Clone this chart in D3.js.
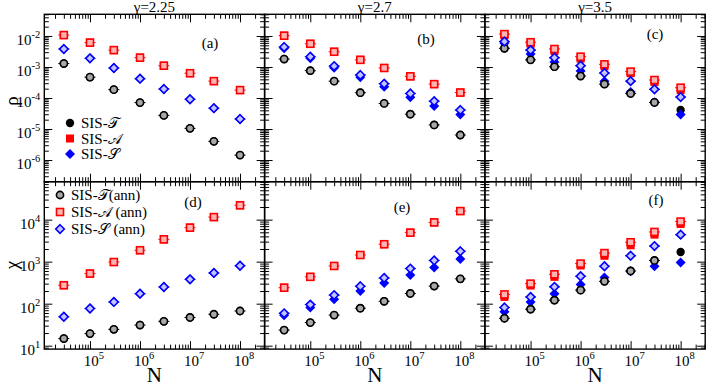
<!DOCTYPE html>
<html>
<head>
<meta charset="utf-8">
<script src="https://cdn.jsdelivr.net/npm/d3@7"></script>
<style>
  body { margin: 0; background: #fff; }
  text { font-family: "Liberation Serif", "Times New Roman", serif; fill: #000; }
</style>
</head>
<body>
<div id="root"></div>
<script>
// system sizes N (same for every panel)
const sizes = [3e4, 1e5, 3e5, 1e6, 3e6, 1e7, 3e7, 1e8];
const gammaTitles = ["γ=2.25", "γ=2.7", "γ=3.5"];
const panelTags = ["(a)", "(b)", "(c)", "(d)", "(e)", "(f)"];
const legendTop = ["SIS-𝒯", "SIS-𝒜", "SIS-𝒮"];
const legendBottom = ["SIS-𝒯(ann)", "SIS-𝒜 (ann)", "SIS-𝒮 (ann)"];

// rho, gamma = 2.25
const rhoT_a = [1.29e-3, 4.7e-4, 1.86e-4, 7.1e-5, 2.75e-5, 1.05e-5, 4.0e-6, 1.44e-6];
const rhoTann_a = [1.29e-3, 4.7e-4, 1.86e-4, 7.1e-5, 2.75e-5, 1.05e-5, 4.0e-6, 1.44e-6];
const rhoA_a = [1.07e-2, 6.1e-3, 3.5e-3, 2.0e-3, 1.1e-3, 6.3e-4, 3.5e-4, 1.8e-4];
const rhoAann_a = [1.07e-2, 6.1e-3, 3.5e-3, 2.0e-3, 1.1e-3, 6.3e-4, 3.5e-4, 1.8e-4];
const rhoS_a = [3.8e-3, 1.9e-3, 9.3e-4, 4.2e-4, 1.95e-4, 9.1e-5, 4.7e-5, 2.1e-5];
const rhoSann_a = [3.8e-3, 1.9e-3, 9.3e-4, 4.2e-4, 1.95e-4, 9.1e-5, 4.7e-5, 2.1e-5];

// rho, gamma = 2.7
const rhoT_b = [1.8e-3, 7.6e-4, 3.5e-4, 1.48e-4, 6.7e-5, 3.0e-5, 1.35e-5, 6.4e-6];
const rhoTann_b = [1.8e-3, 7.6e-4, 3.5e-4, 1.48e-4, 6.7e-5, 3.0e-5, 1.35e-5, 6.4e-6];
const rhoA_b = [1.02e-2, 5.6e-3, 3.1e-3, 1.7e-3, 9.3e-4, 5.0e-4, 2.8e-4, 1.5e-4];
const rhoAann_b = [1.02e-2, 5.6e-3, 3.1e-3, 1.7e-3, 9.3e-4, 5.0e-4, 2.8e-4, 1.5e-4];
const rhoS_b = [4.0e-3, 1.9e-3, 9.5e-4, 4.7e-4, 2.3e-4, 1.05e-4, 5.5e-5, 2.95e-5];
const rhoSann_b = [4.4e-3, 2.15e-3, 1.07e-3, 5.5e-4, 2.9e-4, 1.4e-4, 7.9e-5, 4.1e-5];

// rho, gamma = 3.5
const rhoT_c = [4.0e-3, 1.7e-3, 1.02e-3, 5.1e-4, 2.8e-4, 1.4e-4, 7.2e-5, 4.1e-5];
const rhoTann_c = [4.0e-3, 1.7e-3, 1.02e-3, 5.1e-4, 2.8e-4, 1.4e-4, 7.2e-5, null];
const rhoA_c = [1.05e-2, 5.6e-3, 3.3e-3, 1.85e-3, 1.05e-3, 6.3e-4, 3.3e-4, 1.8e-4];
const rhoAann_c = [1.15e-2, 6.3e-3, 3.8e-3, 2.15e-3, 1.22e-3, 7.1e-4, 3.8e-4, 2.15e-4];
const rhoS_c = [5.8e-3, 2.6e-3, 1.45e-3, 7.4e-4, 3.5e-4, 1.55e-4, 7.3e-5, 2.95e-5];
const rhoSann_c = [6.6e-3, 3.5e-3, 2.0e-3, 1.1e-3, 6.4e-4, 3.5e-4, 1.9e-4, 1.07e-4];

// chi, gamma = 2.25
const chiT_d = [14.8, 19.4, 24.5, 31, 38, 47, 56, 67];
const chiTann_d = [14.8, 19.4, 24.5, 31, 38, 47, 56, 67];
const chiA_d = [275, 521, 980, 1870, 3400, 6450, 11500, 22000];
const chiAann_d = [275, 521, 980, 1870, 3400, 6450, 11500, 22000];
const chiS_d = [49, 77, 110, 173, 250, 380, 540, 800];
const chiSann_d = [49, 77, 110, 173, 250, 380, 540, 800];

// chi, gamma = 2.7
const chiT_e = [23.5, 35.5, 53.5, 78, 114, 175, 262, 390];
const chiTann_e = [23.5, 35.5, 53.5, 78, 114, 175, 262, 390];
const chiA_e = [240, 435, 790, 1440, 2600, 4900, 8600, 16000];
const chiAann_e = [240, 435, 790, 1440, 2600, 4900, 8600, 16000];
const chiS_e = [53, 81, 128, 200, 310, 480, 725, 1150];
const chiSann_e = [59, 95, 160, 260, 410, 685, 1070, 1770];

// chi, gamma = 3.5
const chiT_f = [45, 74, 121, 210, 340, 600, 1070, 1700];
const chiTann_f = [45, 74, 121, 210, 340, 600, 1070, null];
const chiA_f = [145, 270, 435, 810, 1380, 2450, 4400, 7900];
const chiAann_f = [166, 300, 500, 900, 1600, 2900, 5100, 9000];
const chiS_f = [64, 110, 173, 285, 420, 590, 775, 950];
const chiSann_f = [81, 145, 252, 450, 780, 1380, 2350, 4400];

const width = 706, height = 386;
const padLeft = 44.3, padTop = 14.3;
const panelW = 220.3, panelH = 167.4;

const colors = { T: "#000", A: "#ff0000", S: "#0000ff" };
const annFill = { T: "#a8a8a8", A: "#ffb4b4", S: "#c4c4ff" };

const panels = [
  { row: 0, col: 0, q: [rhoT_a, rhoA_a, rhoS_a], ann: [rhoTann_a, rhoAann_a, rhoSann_a] },
  { row: 0, col: 1, q: [rhoT_b, rhoA_b, rhoS_b], ann: [rhoTann_b, rhoAann_b, rhoSann_b] },
  { row: 0, col: 2, q: [rhoT_c, rhoA_c, rhoS_c], ann: [rhoTann_c, rhoAann_c, rhoSann_c] },
  { row: 1, col: 0, q: [chiT_d, chiA_d, chiS_d], ann: [chiTann_d, chiAann_d, chiSann_d] },
  { row: 1, col: 1, q: [chiT_e, chiA_e, chiS_e], ann: [chiTann_e, chiAann_e, chiSann_e] },
  { row: 1, col: 2, q: [chiT_f, chiA_f, chiS_f], ann: [chiTann_f, chiAann_f, chiSann_f] }
];
const kinds = ["T", "A", "S"];

const svg = d3.select("#root").append("svg")
  .attr("width", width).attr("height", height)
  .attr("viewBox", [0, 0, width, height]);

// draw one marker; ann markers are light filled with coloured edge
function marker(g, kind, ann, cx, cy, cap) {
  const stroke = ann ? colors[kind] : "none";
  const fill = ann ? annFill[kind] : colors[kind];
  if (ann && cap) {
    g.append("line").attr("x1", cx - 5.5).attr("x2", cx + 5.5)
      .attr("y1", cy).attr("y2", cy)
      .attr("stroke", colors[kind]).attr("stroke-width", 1);
  }
  let m;
  if (kind === "T") {
    m = g.append("circle").attr("cx", cx).attr("cy", cy).attr("r", ann ? 3.6 : 4.2);
  } else if (kind === "A") {
    const s = ann ? 7 : 8;
    m = g.append("rect").attr("x", cx - s / 2).attr("y", cy - s / 2).attr("width", s).attr("height", s);
  } else {
    const r = ann ? 4.3 : 5;
    m = g.append("path").attr("d", `M${cx},${cy - r}L${cx + r},${cy}L${cx},${cy + r}L${cx - r},${cy}Z`);
  }
  m.attr("fill", fill).attr("stroke", stroke).attr("stroke-width", ann ? 1.6 : 0);
}

function sup(text, base, exp) {
  text.append("tspan").text(base);
  text.append("tspan").attr("dy", -7).attr("font-size", 10.5).text(exp);
}

panels.forEach((p, i) => {
  const x0 = padLeft + p.col * panelW, x1 = x0 + panelW;
  const y0 = padTop + p.row * panelH, y1 = y0 + panelH;

  const x = d3.scaleLog().domain([1.22e4, 3.1e8]).range([x0, x1]);
  const y = d3.scaleLog()
    .domain(p.row === 0 ? [2e-7, 5e-2] : [8.3, 8e4])
    .range([y1, y0]);

  const isMajor = (v) => Math.abs(Math.log10(v) - Math.round(Math.log10(v))) < 1e-9;
  const xt = x.ticks(), yt = y.ticks();
  const xMaj = xt.filter(isMajor), xMin = xt.filter((v) => !isMajor(v));
  const yMaj = yt.filter(isMajor), yMin = yt.filter((v) => !isMajor(v));

  const g = svg.append("g").attr("class", "panel");

  // inward ticks on all four sides
  const axes = [
    [d3.axisRight(y), `translate(${x0},0)`, yMaj, yMin],
    [d3.axisLeft(y), `translate(${x1},0)`, yMaj, yMin],
    [d3.axisBottom(x), `translate(0,${y0})`, xMaj, xMin],
    [d3.axisTop(x), `translate(0,${y1})`, xMaj, xMin]
  ];
  axes.forEach(([ax, tr, maj, min]) => {
    [[maj, 8], [min, 4.5]].forEach(([vals, len]) => {
      const a = g.append("g").attr("transform", tr)
        .call(ax.tickValues(vals).tickSize(len).tickFormat(""));
      a.select(".domain").remove();
      a.selectAll("line").attr("stroke", "#000").attr("stroke-width", 1);
    });
  });

  // data markers: quenched first, annealed on top
  const dots = g.append("g");
  kinds.forEach((k, j) => {
    p.q[j].forEach((v, n) => { if (v != null) marker(dots, k, false, x(sizes[n]), y(v), false); });
  });
  kinds.forEach((k, j) => {
    p.ann[j].forEach((v, n) => { if (v != null) marker(dots, k, true, x(sizes[n]), y(v), true); });
  });

  // frame
  g.append("rect").attr("x", x0).attr("y", y0).attr("width", panelW).attr("height", panelH)
    .attr("fill", "none").attr("stroke", "#000").attr("stroke-width", 1.4);

  // y tick labels on left column
  if (p.col === 0) {
    yMaj.filter((v) => y(v) > y0 + 4 && y(v) < y1 - 2).forEach((v) => {
      const t = g.append("text").attr("x", x0 - 4).attr("y", y(v) + 9)
        .attr("text-anchor", "end").attr("font-size", 15);
      sup(t, "10", Math.round(Math.log10(v)));
    });
  }
  // x tick labels on bottom row
  if (p.row === 1) {
    xMaj.forEach((v) => {
      const t = g.append("text").attr("x", x(v) + 4).attr("y", 366)
        .attr("text-anchor", "middle").attr("font-size", 15);
      sup(t, "10", Math.round(Math.log10(v)));
    });
    g.append("text").attr("x", (x0 + x1) / 2).attr("y", 382)
      .attr("text-anchor", "middle").attr("font-size", 21).text("N");
  } else {
    g.append("text").attr("x", (x0 + x1) / 2).attr("y", 11.5)
      .attr("text-anchor", "middle").attr("font-size", 15).text(gammaTitles[p.col]);
  }
});

// panel tags
const tagPos = [[210, 48], [426, 44], [655, 39], [193, 206.5], [402, 211.5], [656, 205]];
panelTags.forEach((t, i) => {
  svg.append("text").attr("x", tagPos[i][0]).attr("y", tagPos[i][1])
    .attr("text-anchor", "middle").attr("font-size", 15).text(t);
});

// axis titles
svg.append("text").attr("transform", "translate(18,101) rotate(-90)")
  .attr("text-anchor", "middle").attr("font-size", 19).text("ρ");
svg.append("text").attr("transform", "translate(18,265) rotate(-90)")
  .attr("text-anchor", "middle").attr("font-size", 19).text("χ");

// legends
const lg = svg.append("g");
kinds.forEach((k, j) => {
  const ly = 123 + j * 15.5;
  marker(lg, k, false, 70, ly, false);
  lg.append("text").attr("x", 81).attr("y", ly + 5).attr("font-size", 15).text(legendTop[j]);
});
const lgAnn = [195, 212, 229];
kinds.forEach((k, j) => {
  marker(lg, k, true, 60, lgAnn[j], false);
  lg.append("text").attr("x", 71).attr("y", lgAnn[j] + 5).attr("font-size", 15).text(legendBottom[j]);
});
</script>
</body>
</html>
